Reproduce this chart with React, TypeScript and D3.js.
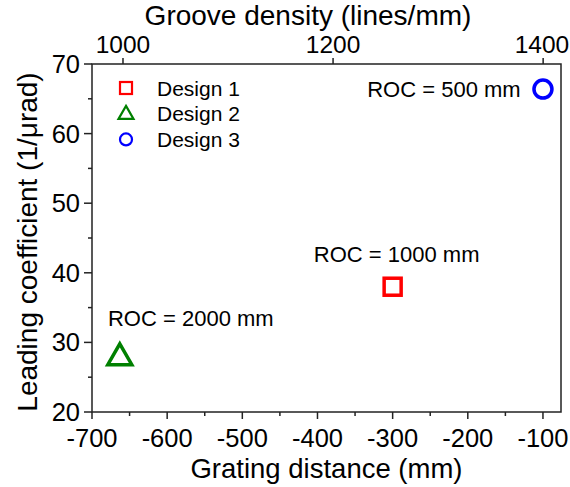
import React from "react";
import * as d3 from "d3";

const designs = ["Design 1", "Design 2", "Design 3"];
const gratingDistance = [-300, -663, -100];
const leadingCoef = [38, 28, 66.4];
const rocLabels = ["ROC = 1000 mm", "ROC = 2000 mm", "ROC = 500 mm"];
const colors = ["#ff0000", "#008000", "#0000ff"];
const shapes = ["square", "triangle", "circle"];
const xTicks = [-700, -600, -500, -400, -300, -200, -100];
const yTicks = [20, 30, 40, 50, 60, 70];
const topTicks = [1000, 1200, 1400];

const W = 570, H = 487;
const L = 92, R = 561, T = 64, B = 412;
const FONT = "Liberation Sans, Arial, sans-serif";

function Marker({ shape, x, y, size, color, sw }: any) {
  if (shape === "square") {
    return <rect x={x - size / 2} y={y - size / 2} width={size} height={size} fill="none" stroke={color} strokeWidth={sw} />;
  }
  if (shape === "circle") {
    return <circle cx={x} cy={y} r={size / 2} fill="none" stroke={color} strokeWidth={sw} />;
  }
  const h = size * 0.87;
  const p = `M${x},${y - h * 0.6} L${x + size / 2},${y + h * 0.4} L${x - size / 2},${y + h * 0.4} Z`;
  return <path d={p} fill="none" stroke={color} strokeWidth={sw} strokeLinejoin="miter" />;
}

export default function App() {
  const x = d3.scaleLinear().domain([-700, -76]).range([L, R]);
  const xTop = d3.scaleLinear().domain([970.5, 1417]).range([L, R]);
  const y = d3.scaleLinear().domain([20, 70]).range([B, T]);
  const xMinor = d3.range(-650, -75, 100);
  const yMinor = d3.range(25, 70, 10);
  const labelOffsets = [
    { dx: 4, dy: -25 },
    { dx: 71, dy: -30 },
    { dx: -99, dy: 8 },
  ];
  const dataSize = [17, 24, 18];
  return (
    <svg width={W} height={H} style={{ position: "absolute", left: 0, top: 0, background: "#fff" }} fontFamily={FONT}>
      {/* frame */}
      <rect x={L} y={T} width={R - L} height={B - T} fill="none" stroke="#222" strokeWidth={1.5} />
      {/* bottom axis */}
      {xTicks.map((t) => (
        <g key={t}>
          <line x1={x(t)} x2={x(t)} y1={B} y2={B + 7} stroke="#222" strokeWidth={1.5} />
          <text x={x(t)} y={447} textAnchor="middle" fontSize={25.5} fill="#000">{t}</text>
        </g>
      ))}
      {xMinor.map((t) => (
        <line key={t} x1={x(t)} x2={x(t)} y1={B} y2={B + 4} stroke="#222" strokeWidth={1.5} />
      ))}
      <text x={(L + R) / 2} y={478} textAnchor="middle" fontSize={27.5} fill="#000">Grating distance (mm)</text>
      {/* left axis */}
      {yTicks.map((t) => (
        <g key={t}>
          <line x1={L - 8} x2={L} y1={y(t)} y2={y(t)} stroke="#222" strokeWidth={1.5} />
          <text x={L - 12} y={y(t) + 9} textAnchor="end" fontSize={25.5} fill="#000">{t}</text>
        </g>
      ))}
      {yMinor.map((t) => (
        <line key={t} x1={L - 4} x2={L} y1={y(t)} y2={y(t)} stroke="#222" strokeWidth={1.5} />
      ))}
      <text transform={`translate(37,242) rotate(-90)`} textAnchor="middle" fontSize={28} fill="#000">Leading coefficient (1/μrad)</text>
      {/* top axis */}
      {topTicks.map((t) => (
        <g key={t}>
          <line x1={xTop(t)} x2={xTop(t)} y1={T} y2={T - 6} stroke="#222" strokeWidth={1.5} />
          <text x={Math.min(xTop(t), W - 28)} y={T - 11} textAnchor="middle" fontSize={24.5} fill="#000">{t}</text>
        </g>
      ))}
      <text x={308} y={25} textAnchor="middle" fontSize={28} fill="#000">Groove density (lines/mm)</text>
      {/* legend */}
      {designs.map((d, i) => (
        <g key={d}>
          <Marker shape={shapes[i]} x={126} y={88 + i * 25.7} size={i === 1 ? 15 : 12} color={colors[i]} sw={2.2} />
          <text x={157} y={88 + i * 25.7 + 7.5} fontSize={21} fill="#000">{d}</text>
        </g>
      ))}
      {/* data */}
      {designs.map((d, i) => (
        <g key={d}>
          <Marker shape={shapes[i]} x={x(gratingDistance[i])} y={y(leadingCoef[i])} size={dataSize[i]} color={colors[i]} sw={3.5} />
          <text x={x(gratingDistance[i]) + labelOffsets[i].dx} y={y(leadingCoef[i]) + labelOffsets[i].dy} textAnchor="middle" fontSize={22} fill="#000">{rocLabels[i]}</text>
        </g>
      ))}
    </svg>
  );
}
